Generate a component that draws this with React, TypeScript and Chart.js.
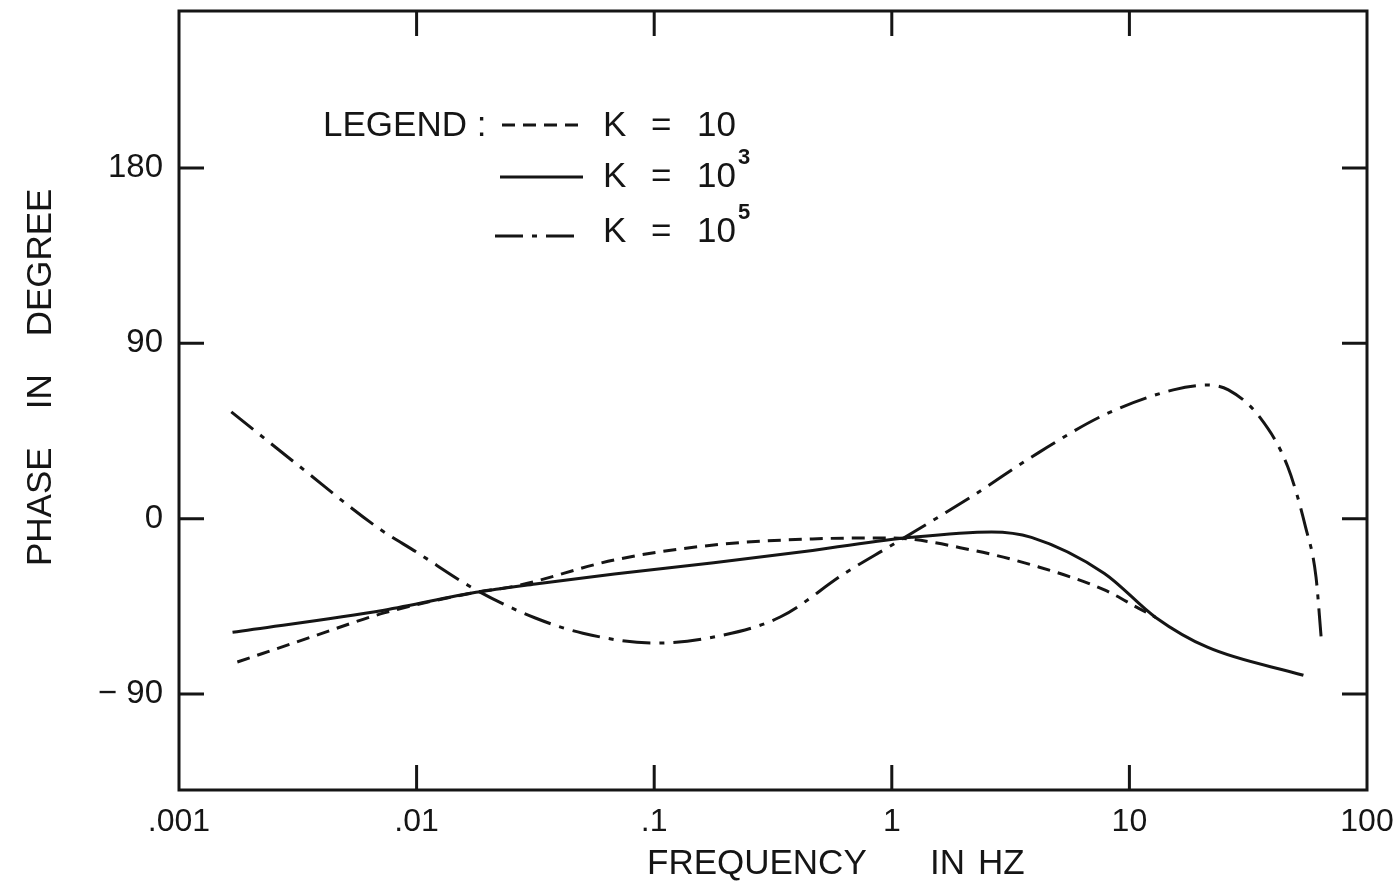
import React, { useEffect, useRef } from "react";
import { Chart, registerables } from "chart.js";

Chart.register(...registerables);

// ---- data ----
const freqK10 = [0.00176, 0.0036, 0.0073, 0.0178, 0.0261, 0.068, 0.178, 0.464, 0.972, 2.17, 4.15, 7.85, 10.9, 12.9];
const phaseK10 = [-73.6, -60.8, -48.4, -37.8, -34.6, -21.2, -13.5, -10.4, -9.9, -16.1, -24.8, -36.6, -45.9, -50.7];

const freqK1e3 = [0.00168, 0.0073, 0.0178, 0.0316, 0.068, 0.178, 0.464, 1.21, 2.63, 3.87, 7.85, 12.9, 21.3, 54.0];
const phaseK1e3 = [-58.3, -47.0, -37.8, -33.5, -28.4, -22.6, -16.3, -9.6, -6.8, -9.6, -28.1, -50.7, -66.0, -80.4];

const freqK1e5 = [0.00166, 0.00318, 0.00682, 0.01, 0.0178, 0.0316, 0.0501, 0.1, 0.178, 0.339, 0.637, 0.972, 1.135, 2.17, 4.15, 7.85, 15.3, 21.3, 26.1, 35.3, 46.4, 55.1, 61.0, 64.1];
const phaseK1e5 = [54.8, 27.3, -4.4, -17.2, -36.6, -51.0, -58.8, -63.9, -60.8, -50.5, -27.9, -14.5, -9.6, 11.4, 33.9, 53.3, 66.1, 68.6, 66.1, 52.2, 26.6, -4.2, -29.9, -60.7];

const xTickValues = [0.001, 0.01, 0.1, 1, 10, 100];
const xTickLabels = [".001", ".01", ".1", "1", "10", "100"];
const yTickValues = [-90, 0, 90, 180];
const yTickLabels = ["\u2212 90", "0", "90", "180"];

const seriesLabels = ["K = 10", "K = 10\u00b3", "K = 10\u2075"];
const legendTitle = "LEGEND :";
const xTitleWords = ["FREQUENCY", "IN", "HZ"];
const yTitleWords = ["PHASE", "IN", "DEGREE"];

const X_MIN = 0.001;
const X_MAX = 100;
const Y_MIN = -139.3;
const Y_MAX = 260.6;

const INK = "#151515";
const FONT = "'Liberation Sans', 'DejaVu Sans', sans-serif";
const DASH_K10 = [13, 8];
const DASH_K1E3: number[] = [];
const DASH_K1E5 = [28, 9, 5, 9];

function pts(xs: number[], ys: number[]) {
  return xs.map((x, i) => ({ x, y: ys[i] }));
}

const framePlugin = {
  id: "frameTicks",
  afterDatasetsDraw(chart: any) {
    const { ctx, chartArea: a, scales } = chart;
    const xs = scales.x;
    const ys = scales.y;
    ctx.save();
    ctx.strokeStyle = INK;
    ctx.lineWidth = 3;
    ctx.setLineDash([]);
    ctx.lineCap = "square";
    ctx.strokeRect(a.left, a.top, a.right - a.left, a.bottom - a.top);
    const TL = 25;
    ctx.lineCap = "butt";
    ctx.beginPath();
    xTickValues.forEach((v) => {
      if (v === X_MIN || v === X_MAX) return;
      const px = xs.getPixelForValue(v);
      ctx.moveTo(px, a.bottom);
      ctx.lineTo(px, a.bottom - TL);
      ctx.moveTo(px, a.top);
      ctx.lineTo(px, a.top + TL);
    });
    yTickValues.forEach((v) => {
      const py = ys.getPixelForValue(v);
      ctx.moveTo(a.left, py);
      ctx.lineTo(a.left + TL, py);
      ctx.moveTo(a.right, py);
      ctx.lineTo(a.right - TL, py);
    });
    ctx.stroke();
    ctx.restore();
  },
  afterDraw(chart: any) {
    const { ctx } = chart;
    ctx.save();
    ctx.fillStyle = INK;
    ctx.strokeStyle = INK;

    // axis titles
    ctx.font = `35px ${FONT}`;
    ctx.textBaseline = "middle";
    ctx.textAlign = "left";
    const xTitlePos = [647, 930, 978];
    xTitleWords.forEach((w, i) => {
      ctx.fillText(w, xTitlePos[i], 864);
    });

    ctx.save();
    ctx.translate(41, 566);
    ctx.rotate(-Math.PI / 2);
    let yPos = 0;
    yTitleWords.forEach((w) => {
      ctx.fillText(w, yPos, 0);
      yPos += ctx.measureText(w).width + 38;
    });
    ctx.restore();

    // legend
    ctx.font = `35px ${FONT}`;
    ctx.fillText(legendTitle, 323, 126);
    const rows = [
      { y: 126, ly: 125, dash: DASH_K10, x0: 502, x1: 580, sup: "" },
      { y: 177, ly: 177, dash: DASH_K1E3, x0: 500, x1: 583, sup: "3" },
      { y: 232, ly: 236, dash: DASH_K1E5, x0: 495, x1: 583, sup: "5" },
    ];
    rows.forEach((r) => {
      ctx.save();
      ctx.lineWidth = 3;
      ctx.setLineDash(r.dash);
      ctx.beginPath();
      ctx.moveTo(r.x0, r.ly);
      ctx.lineTo(r.x1, r.ly);
      ctx.stroke();
      ctx.restore();
      ctx.font = `35px ${FONT}`;
      ctx.fillText("K", 603, r.y);
      ctx.fillText("=", 651, r.y);
      ctx.fillText("10", 697, r.y);
      if (r.sup) {
        ctx.font = `bold 22px ${FONT}`;
        ctx.fillText(r.sup, 738, r.y - 19);
      }
    });
    ctx.restore();
  },
};

export default function App() {
  const ref = useRef<HTMLCanvasElement | null>(null);

  useEffect(() => {
    if (!ref.current) return;
    const common = {
      borderColor: INK,
      borderWidth: 3,
      pointRadius: 0,
      fill: false,
      cubicInterpolationMode: "monotone" as const,
    };
    const chart = new Chart(ref.current, {
      type: "line",
      data: {
        datasets: [
          { ...common, label: seriesLabels[0], data: pts(freqK10, phaseK10), borderDash: DASH_K10 },
          { ...common, label: seriesLabels[1], data: pts(freqK1e3, phaseK1e3), borderDash: DASH_K1E3 },
          { ...common, label: seriesLabels[2], data: pts(freqK1e5, phaseK1e5), borderDash: DASH_K1E5 },
        ],
      },
      options: {
        animation: false,
        responsive: true,
        maintainAspectRatio: false,
        layout: { padding: { top: 11, right: 32, left: 0, bottom: 0 } },
        plugins: {
          legend: { display: false },
          tooltip: { enabled: false },
          title: { display: false },
        },
        scales: {
          x: {
            type: "logarithmic",
            min: X_MIN,
            max: X_MAX,
            grid: { display: false, drawTicks: false },
            border: { display: false },
            afterBuildTicks: (s: any) => {
              s.ticks = xTickValues.map((v) => ({ value: v }));
            },
            afterFit: (s: any) => {
              s.height = 102;
              s.paddingLeft = 0;
              s.paddingRight = 0;
            },
            ticks: {
              autoSkip: false,
              maxRotation: 0,
              padding: 13,
              color: INK,
              font: { family: FONT, size: 32 },
              callback: (_v: any, i: number) => xTickLabels[i],
            },
          },
          y: {
            type: "linear",
            min: Y_MIN,
            max: Y_MAX,
            grid: { display: false, drawTicks: false },
            border: { display: false },
            afterBuildTicks: (s: any) => {
              s.ticks = yTickValues.map((v) => ({ value: v }));
            },
            afterFit: (s: any) => {
              s.width = 179;
              s.paddingTop = 0;
              s.paddingBottom = 0;
            },
            ticks: {
              autoSkip: false,
              padding: 16,
              color: INK,
              font: { family: FONT, size: 33 },
              callback: (_v: any, i: number) => yTickLabels[i],
            },
          },
        },
      },
      plugins: [framePlugin],
    });
    return () => chart.destroy();
  }, []);

  return (
    <div style={{ position: "absolute", left: 0, top: 0, width: 1399, height: 892, background: "#fff" }}>
      <canvas ref={ref} />
    </div>
  );
}
